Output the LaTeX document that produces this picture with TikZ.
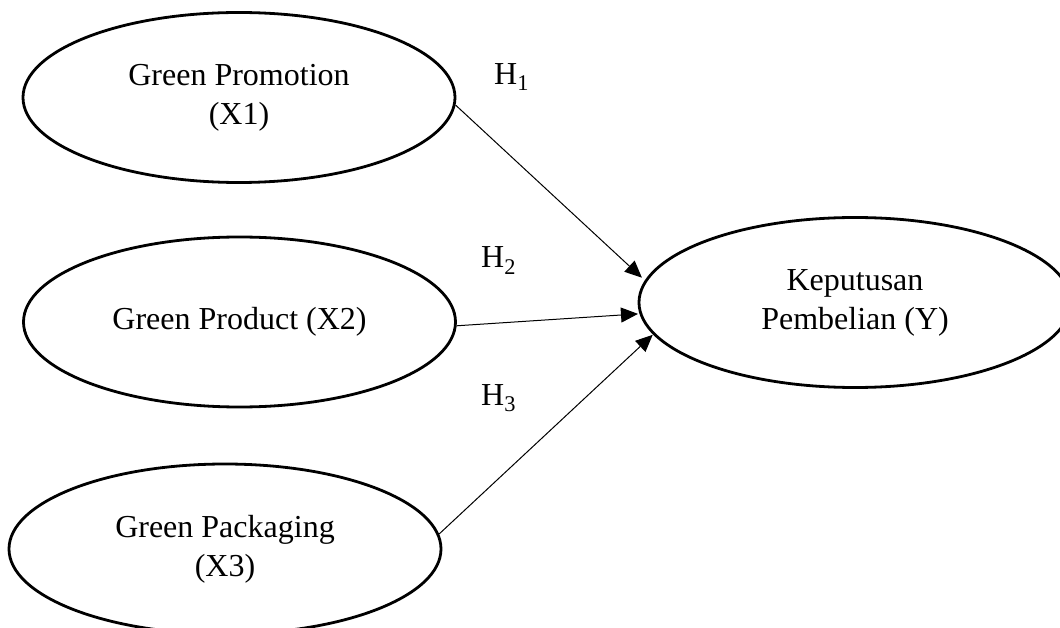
\documentclass[tikz,border=0pt]{standalone}
\usepackage{fontspec}
\setmainfont{Liberation Serif}
\usetikzlibrary{shapes.geometric,arrows.meta}
\begin{document}
\begin{tikzpicture}[x=1pt,y=-1pt,
  var/.style={draw,ellipse,line width=2.8pt,inner sep=0pt,minimum width=432pt,minimum height=170pt,align=center,font=\fontsize{32}{39}\selectfont},
  hyp/.style={inner sep=0pt,anchor=base west,font=\fontsize{32}{39}\selectfont},
  arr/.style={line width=1pt,-{Triangle[length=17pt,width=15pt]}}]
\useasboundingbox[fill=white] (0,0) rectangle (1060,628);
\node[var] (p1) at (239,97.5) {Green Promotion\\(X1)};
\node[var] (p2) at (239.5,322) {Green Product (X2)};
\node[var] (p3) at (225,549) {Green Packaging\\(X3)};
\node[var] (y) at (855,302.5) {Keputusan\\Pembelian (Y)};
\node[hyp] (h1) at (494,84.5) {H\textsubscript{1}};
\node[hyp] (h2) at (481,268) {H\textsubscript{2}};
\node[hyp] (h3) at (481,405) {H\textsubscript{3}};
\draw[arr,shorten >=4pt] (p1.-2.5) -- (y.174.8);
\draw[arr,shorten >=1.5pt] (p2.-1) -- (y.183.8);
\draw[arr,shorten >=0.5pt] (p3.4.6) -- (y.189.4);
\end{tikzpicture}
\end{document}
